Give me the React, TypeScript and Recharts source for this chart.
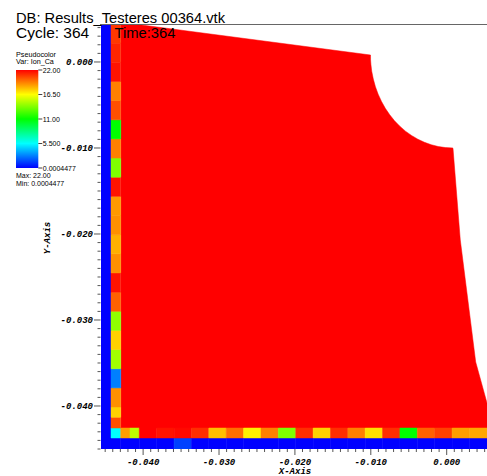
import { Area, ComposedChart, ReferenceArea, XAxis, YAxis } from "recharts";

// Ion_Ca colour range
const VMIN = 0.0004477;
const VMAX = 22.0;

// mesh cell edges (x left to right, y bottom to top)
const X_EDGES = [
  -0.04555, -0.04423, -0.04295, -0.04173, -0.0405, -0.03821, -0.03592, -0.03363, -0.03134,
  -0.02905, -0.02676, -0.02447, -0.02218, -0.01989, -0.0176, -0.01531, -0.01302, -0.01074,
  -0.00845, -0.00616, -0.00387, -0.00158, 0.00071, 0.003, 0.006,
];
const Y_EDGES = [
  -0.045, -0.04372, -0.04256, -0.04131, -0.04012, -0.03789, -0.03567, -0.03344, -0.03121,
  -0.02899, -0.02676, -0.02453, -0.0223, -0.02008, -0.01785, -0.01562, -0.0134, -0.01117,
  -0.00894, -0.00672, -0.00449, -0.00226, -0.00004, 0.00219, 0.00442,
];

// boundary row at the bottom, one value per column
const WALL_ROW = [
  VMIN, VMIN, VMIN, VMIN, VMIN, VMIN, 1.4, VMIN, VMIN, VMIN, VMIN, VMIN,
  VMIN, VMIN, VMIN, VMIN, VMIN, VMIN, VMIN, VMIN, VMIN, VMIN, VMIN, VMIN,
];
// row above it, columns 1..23
const FLOOR_ROW = [
  5.5, 18.6, 15.1, 22.0, 21.6, 21.8, 21.0, 17.9, 19.6, 16.8, 19.25, 13.75,
  21.0, 17.5, 21.0, 19.25, 17.2, 21.0, 11.0, 19.9, 20.6, 18.6, 18.4,
];
// first column right of the boundary, rows 2..23 bottom to top
const SIDE_COL = [
  20.3, 17.5, 18.9, 2.75, 14.5, 17.5, 14.1, 19.9, 21.6, 18.9, 18.2,
  18.9, 18.7, 21.6, 13.75, 19.25, 11.0, 20.3, 19.25, 21.6, 21.2, 20.8,
];

// outline of the interior (all at max value): top edge, round notch, right edge
const BODY_X = [
  -0.04295, -0.01004, -0.01003, -0.00998, -0.00988, -0.00967, -0.00939, -0.00903, -0.00859,
  -0.00809, -0.00751, -0.00688, -0.00618, -0.00544, -0.00464, -0.0038, -0.00293, -0.00204,
  -0.00112, -0.00018, 0.00076, 0.00083, 0.00179, 0.00382, 0.0052, 0.00625,
];
const BODY_TOP = [
  0.00462, 0.00081, 0.00024, -0.00032, -0.00107, -0.00199, -0.00288, -0.00375, -0.00459,
  -0.00539, -0.00613, -0.00683, -0.00746, -0.00804, -0.00854, -0.00898, -0.00934, -0.00962,
  -0.00983, -0.00995, -0.00999, -0.01003, -0.0207, -0.03488, -0.0393, -0.04256,
];
const BODY_BOTTOM = -0.04256;

const X_DOMAIN = [-0.04555, 0.00531];
const Y_DOMAIN = [-0.045, 0.0043];

const LEGEND_LABELS = ["22.00", "16.50", "11.00", "5.500", "0.0004477"];

const X_TICKS: number[] = [];
for (let i = -45; i <= 5; i++) X_TICKS.push(i / 1000);
const Y_TICKS: number[] = [];
for (let i = -45; i <= 4; i++) Y_TICKS.push(i / 1000);

const STOPS = [
  [0, 0, 0, 255],
  [0.25, 0, 255, 255],
  [0.5, 0, 255, 0],
  [0.75, 255, 255, 0],
  [1, 255, 0, 0],
];

function hot(v: number) {
  const t = Math.min(1, Math.max(0, (v - VMIN) / (VMAX - VMIN)));
  for (let i = 1; i < STOPS.length; i++) {
    if (t <= STOPS[i][0]) {
      const a = STOPS[i - 1];
      const b = STOPS[i];
      const f = (t - a[0]) / (b[0] - a[0]);
      const c = [1, 2, 3].map((k) => Math.round(a[k] + (b[k] - a[k]) * f));
      return `rgb(${c[0]},${c[1]},${c[2]})`;
    }
  }
  return "rgb(255,0,0)";
}

type Cell = { x1: number; x2: number; y1: number; y2: number; v: number };
const cells: Cell[] = [];
WALL_ROW.forEach((v, i) => cells.push({ x1: X_EDGES[i], x2: X_EDGES[i + 1], y1: Y_EDGES[0], y2: Y_EDGES[1], v }));
cells.push({ x1: X_EDGES[0], x2: X_EDGES[1], y1: Y_EDGES[1], y2: Y_EDGES[Y_EDGES.length - 1], v: VMIN });
FLOOR_ROW.forEach((v, i) => cells.push({ x1: X_EDGES[i + 1], x2: X_EDGES[i + 2], y1: Y_EDGES[1], y2: Y_EDGES[2], v }));
SIDE_COL.forEach((v, i) => cells.push({ x1: X_EDGES[1], x2: X_EDGES[2], y1: Y_EDGES[i + 2], y2: Y_EDGES[i + 3], v }));

const body = BODY_X.map((x, i) => ({ x, band: [BODY_BOTTOM, BODY_TOP[i]] }));

const SANS = "'Liberation Sans', Arial, sans-serif";
const MONO = "'Liberation Mono', 'DejaVu Sans Mono', monospace";

function XTick({ x, y, payload }: any) {
  const v = payload.value;
  const major = Math.round(v * 1000) % 10 === 0;
  return (
    <g>
      <line x1={x} x2={x} y1={y} y2={y + (major ? 6 : 3)} stroke="#555" />
      {major && (
        <text x={x} y={y + 16} textAnchor="middle" fontFamily={MONO} fontSize={9} fontWeight="bold" fontStyle="italic" fill="#000">
          {v.toFixed(3)}
        </text>
      )}
    </g>
  );
}

function YTick({ x, y, payload }: any) {
  const v = payload.value;
  const major = Math.round(v * 1000) % 10 === 0;
  return (
    <g>
      <line x1={x - (major ? 7 : 3.5)} x2={x - 0.5} y1={y} y2={y} stroke="#555" />
      {major && (
        <text x={x - 8} y={y + 3} textAnchor="end" fontFamily={MONO} fontSize={9} fontWeight="bold" fontStyle="italic" fill="#000">
          {v.toFixed(3)}
        </text>
      )}
    </g>
  );
}

export default function App() {
  const barTop = 70;
  const barH = 98;
  return (
    <div style={{ position: "absolute", left: 0, top: 0, width: 487, height: 476, background: "#fff" }}>
      <ComposedChart width={487} height={476} data={body} margin={{ top: 25, right: 0, bottom: 0, left: 0 }}>
        <XAxis
          dataKey="x"
          type="number"
          domain={X_DOMAIN}
          allowDataOverflow
          ticks={X_TICKS}
          interval={0}
          height={27}
          tickSize={0}
          tickMargin={0}
          tickLine={false}
          axisLine={false}
          tick={(p: any) => <XTick {...p} />}
        />
        <YAxis
          type="number"
          domain={Y_DOMAIN}
          allowDataOverflow
          ticks={Y_TICKS}
          interval={0}
          width={101}
          tickSize={0}
          tickMargin={0}
          tickLine={false}
          axisLine={false}
          tick={(p: any) => <YTick {...p} />}
        />
        <Area
          dataKey="band"
          type="linear"
          fill="#ff0000"
          fillOpacity={1}
          stroke="#ff0000"
          strokeWidth={0.5}
          dot={false}
          activeDot={false}
          isAnimationActive={false}
        />
        {cells.map((c, i) => (
          <ReferenceArea
            key={i}
            x1={c.x1}
            x2={c.x2}
            y1={c.y1}
            y2={c.y2}
            fill={hot(c.v)}
            fillOpacity={1}
            stroke={hot(c.v)}
            strokeWidth={0.5}
            ifOverflow="hidden"
          />
        ))}
      </ComposedChart>
      <svg width={487} height={476} style={{ position: "absolute", left: 0, top: 0, pointerEvents: "none" }}>
        <defs>
          <linearGradient id="hotbar" x1="0" y1="0" x2="0" y2="1">
            <stop offset="0" stopColor="#ff0000" />
            <stop offset="0.25" stopColor="#ffff00" />
            <stop offset="0.5" stopColor="#00ff00" />
            <stop offset="0.75" stopColor="#00ffff" />
            <stop offset="1" stopColor="#0000ff" />
          </linearGradient>
        </defs>
        <line x1={100} x2={487} y1={24.5} y2={24.5} stroke="#666" />
        <text x={16} y={22.7} fontFamily={SANS} fontSize={15.5} textLength={209} lengthAdjust="spacingAndGlyphs" fill="#000">
          DB: Results_Testeres 00364.vtk
        </text>
        <text x={16} y={38.3} fontFamily={SANS} fontSize={15.5} fill="#000">
          Cycle: 364
        </text>
        <text x={114.5} y={38.3} fontFamily={SANS} fontSize={15.5} textLength={61} lengthAdjust="spacingAndGlyphs" fill="#000">
          Time:364
        </text>
        <text x={16} y={56.5} fontFamily={SANS} fontSize={7.2} fill="#000">Pseudocolor</text>
        <text x={16} y={64.3} fontFamily={SANS} fontSize={7.2} fill="#000">Var: Ion_Ca</text>
        <rect x={16} y={barTop} width={22.3} height={barH} fill="url(#hotbar)" />
        {LEGEND_LABELS.map((l, i) => {
          const ty = barTop + (barH * i) / (LEGEND_LABELS.length - 1);
          return (
            <g key={l}>
              <line x1={38.3} x2={42.3} y1={ty} y2={ty} stroke="#444" />
              <text x={42.8} y={ty + 2.5} fontFamily={SANS} fontSize={7} fill="#000">{l}</text>
            </g>
          );
        })}
        <text x={16} y={178.3} fontFamily={SANS} fontSize={7} fill="#000">Max: 22.00</text>
        <text x={16} y={186} fontFamily={SANS} fontSize={7} fill="#000">Min: 0.0004477</text>
        <text x={295} y={474} textAnchor="middle" fontFamily={MONO} fontSize={9} fontWeight="bold" fontStyle="italic" fill="#000">
          X-Axis
        </text>
        <text
          x={0}
          y={0}
          transform="translate(50,238) rotate(-90)"
          textAnchor="middle"
          fontFamily={MONO}
          fontSize={9}
          fontWeight="bold"
          fontStyle="italic"
          fill="#000"
        >
          Y-Axis
        </text>
      </svg>
    </div>
  );
}
